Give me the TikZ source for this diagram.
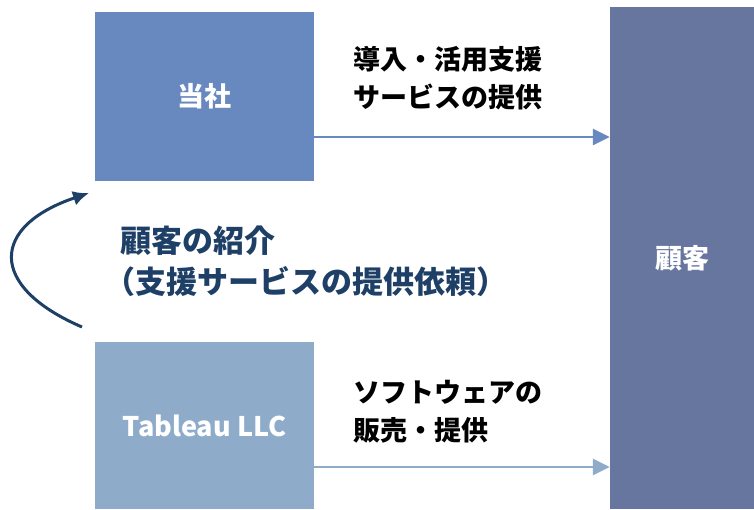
\documentclass[tikz,border=0pt]{standalone}
\usepackage{fontspec}
\setmainfont{Noto Sans CJK JP}
\usetikzlibrary{arrows.meta}
\definecolor{TSBlue}{HTML}{6889BF}
\definecolor{TBBlue}{HTML}{8EACCA}
\definecolor{KKBlue}{HTML}{66769E}
\definecolor{NavyText}{HTML}{1E3F66}

\begin{document}
\begin{tikzpicture}[
    x=1pt, y=-1pt,
    box/.style   = {fill=#1, draw=none, text=white, font=\fontsize{27}{32}\selectfont\bfseries, inner sep=0pt},
    flow/.style  = {line width=2.6pt, draw=#1, -{Triangle[length=17pt,width=16pt]}},
    label/.style = {align=left, anchor=north west, inner sep=0pt, font=\fontsize{27}{38}\selectfont\bfseries},
  ]
% canvas
\useasboundingbox (0,0) rectangle (754,509);

% defining coordinates
\coordinate (upA) at (0,137);
\coordinate (loA) at (0,467);
\coordinate (CS) at (82,327);
\coordinate (CE) at (89,193);

% boxes
\node (tosha) [box=TSBlue, minimum width=219pt, minimum height=169pt] at (204.5,96.5) {当社};
\node (tableau) [box=TBBlue, minimum width=219pt, minimum height=167pt] at (204.5,425.5) {Tableau LLC};
\node (kokyaku) [box=KKBlue, minimum width=144pt, minimum height=502pt] at (682,258) {顧客};

% flows to the customer
\draw [flow=TSBlue] (tosha.east |- upA) -- (kokyaku.west |- upA);
\draw [flow=TBBlue] (tableau.east |- loA) -- (kokyaku.west |- loA);

\node (shien) [label] at (353,46) {導入・活用支援\\サービスの提供};
\node (hanbai) [label] at (353,380) {ソフトウェアの\\販売・提供};

% introduction loop
\draw [line width=3pt, NavyText, -{Latex[length=16pt,width=15pt]}]
    (CS) .. controls (-13,286) and (-9,226) .. (CE);
\node (shokai) [label, text=NavyText, font=\fontsize{31}{41}\selectfont\bfseries] at (120,226)
    {顧客の紹介\\\hspace*{-16pt}（支援サービスの提供依頼）};

\end{tikzpicture}
\end{document}
